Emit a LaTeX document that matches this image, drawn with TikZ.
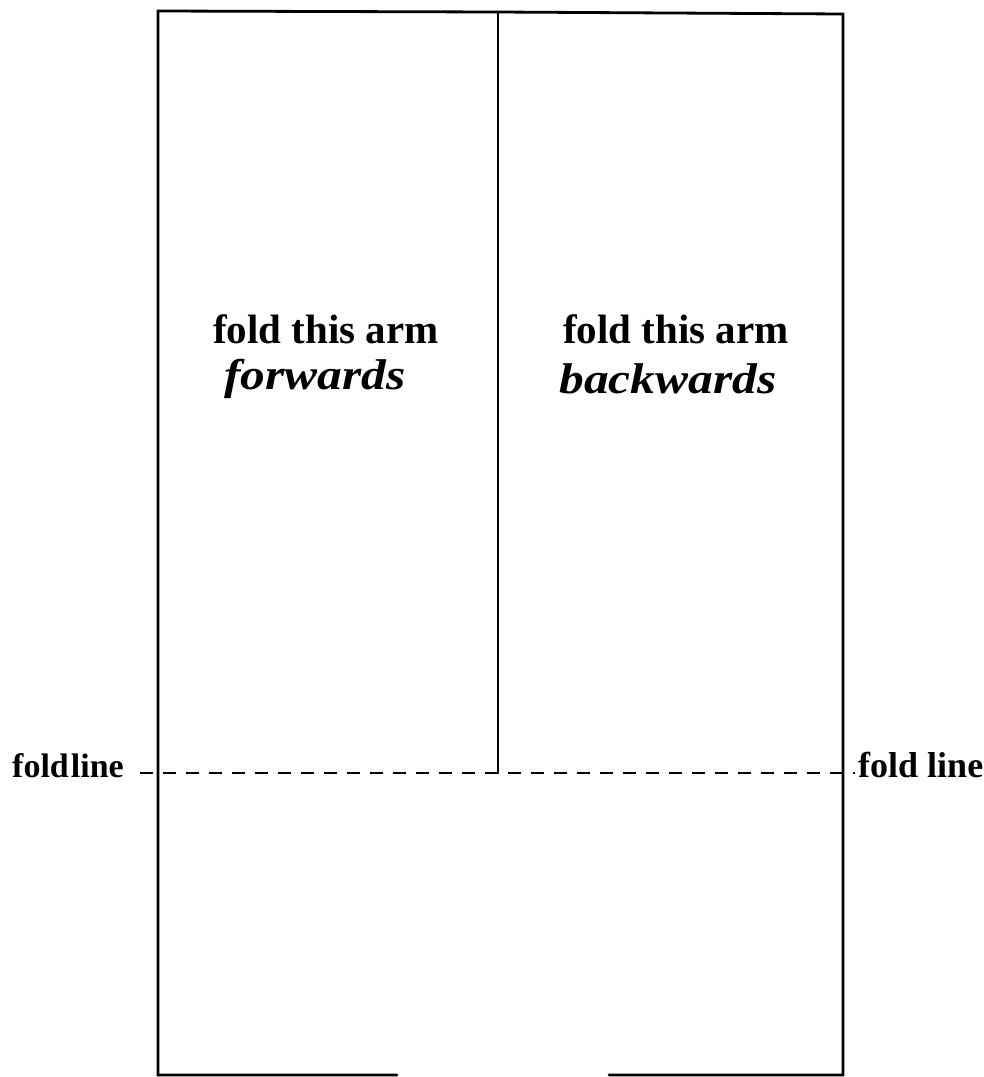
\documentclass[tikz,border=0pt]{standalone}
\usepackage{fontspec}
\setmainfont{Liberation Serif}
\newfontfamily\wideit[FakeStretch=1.15]{Liberation Serif}
\begin{document}
\begin{tikzpicture}[x=1pt,y=-1pt,
  edge/.style={line width=2.8pt, line cap=round, line join=miter},
  foldl/.style={line width=1.5pt, dash pattern=on 13pt off 10pt},
  lbl/.style={font=\fontsize{41}{46}\selectfont\bfseries, align=center, inner sep=0pt},
  emph/.style={font=\wideit\fontsize{43}{48}\selectfont\bfseries\itshape, inner sep=0pt},
  side/.style={font=\fontsize{34}{40}\selectfont\bfseries, inner sep=0pt}]
\useasboundingbox (0,0) rectangle (984,1077);
\coordinate (TL) at (158,11);
\coordinate (TM) at (498,12);
\coordinate (TR) at (843,14);
\coordinate (BL) at (158,1075);
\coordinate (BR) at (843,1075);
\coordinate (BGL) at (397,1075);
\coordinate (BGR) at (609,1075);
\coordinate (MM) at (498,773);
\coordinate (FL) at (140,773);
\coordinate (FR) at (855,773);
% outline
\draw[edge] (BGL) -- (BL) -- (TL) -- (TM) -- (TR) -- (BR) -- (BGR);
\draw[edge] (TM) -- (MM);
\draw[foldl] (FL) -- (FR);
% labels
\node[lbl] (f1) at (326,329) {fold this arm};
\node[emph] (f2) at (315,379) {forwards};
\node[lbl] (b1) at (676,329) {fold this arm};
\node[emph] (b2) at (668,379) {backwards};
\node[side, anchor=base west] (sl) at (12,777) {fold\hspace{2pt}line};
\node[side, anchor=base west, font=\fontsize{36}{40}\selectfont\bfseries] (sr) at (858,777) {fold line};
\end{tikzpicture}
\end{document}
